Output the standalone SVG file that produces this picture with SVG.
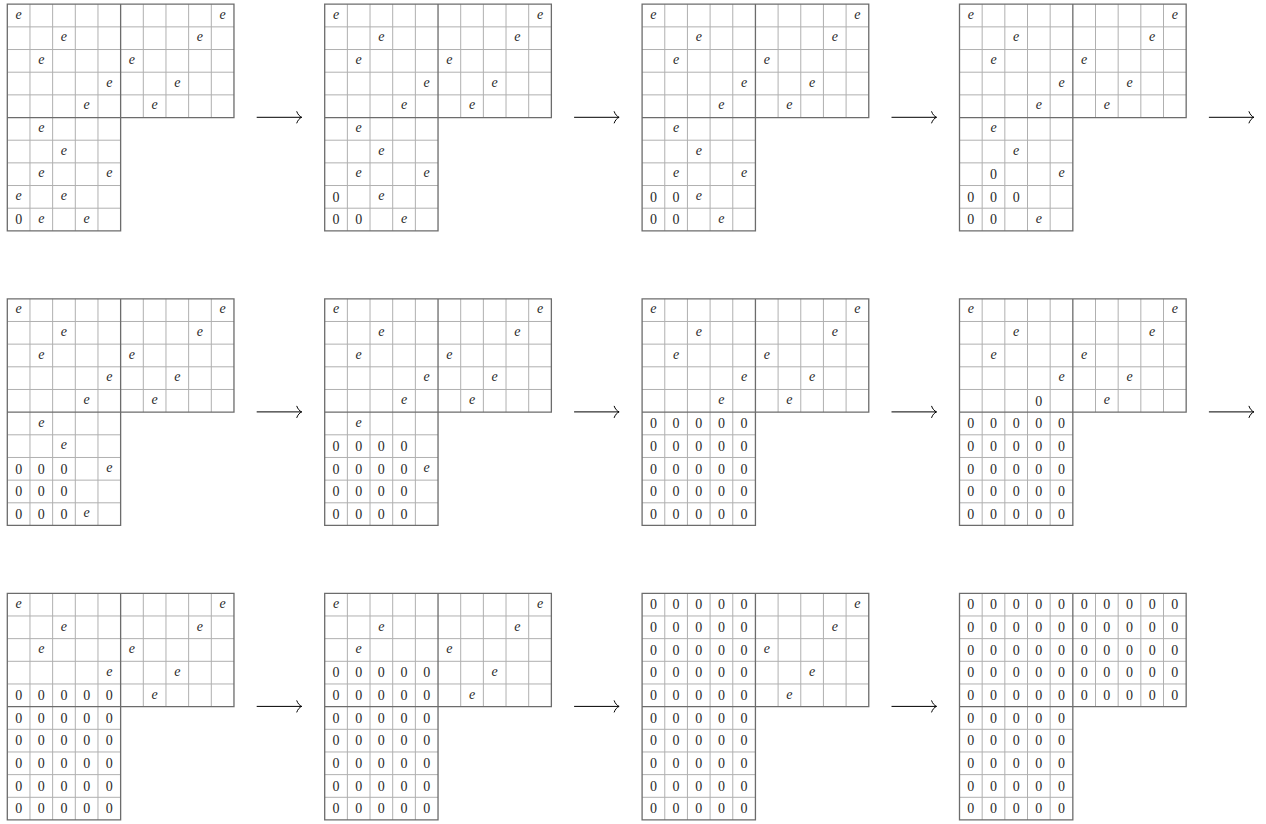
<svg xmlns="http://www.w3.org/2000/svg" xmlns:xlink="http://www.w3.org/1999/xlink" width="1266" height="824" viewBox="0 0 1266 824">
<style>
.t{stroke:#b0b0b0;stroke-width:1;fill:none}
.k{stroke:#6c6c6c;stroke-width:1.3;fill:none}
text{font-family:"Liberation Serif","Times New Roman",serif;font-size:14px;fill:#2a2a2a;text-anchor:middle}
.e{font-style:italic}
.a{stroke:#000;stroke-width:1;fill:none}
.g{opacity:0.995}
</style>
<defs>
<marker id="ah" markerUnits="userSpaceOnUse" markerWidth="10" markerHeight="14" refX="7" refY="7" orient="auto" overflow="visible">
<path d="M2,1 C3,4 5,6.2 7,7 C5,7.8 3,10 2,13" stroke="#000" stroke-width="1" fill="none"/>
</marker>
<g id="L">
<path class="t" d="M22.67,0V226.67M45.33,0V226.67M68,0V226.67M90.67,0V226.67M136,0V113.33M158.67,0V113.33M181.33,0V113.33M204,0V113.33M0,22.67H226.67M0,45.33H226.67M0,68H226.67M0,90.67H226.67M0,136H113.33M0,158.67H113.33M0,181.33H113.33M0,204H113.33"/>
<path class="k" d="M0,0H226.67V113.33H113.33V226.67H0ZM113.33,0V113.33M0,113.33H113.33"/>
</g>
</defs>

<g id="connectors">
<path class="a" d="M256.7,117.3H301.7" marker-end="url(#ah)"/>
<path class="a" d="M574.1,117.3H619.1" marker-end="url(#ah)"/>
<path class="a" d="M891.5,117.3H936.5" marker-end="url(#ah)"/>
<path class="a" d="M1208.9,117.3H1253.9" marker-end="url(#ah)"/>
<path class="a" d="M256.7,411.9H301.7" marker-end="url(#ah)"/>
<path class="a" d="M574.1,411.9H619.1" marker-end="url(#ah)"/>
<path class="a" d="M891.5,411.9H936.5" marker-end="url(#ah)"/>
<path class="a" d="M1208.9,411.9H1253.9" marker-end="url(#ah)"/>
<path class="a" d="M256.7,706.4H301.7" marker-end="url(#ah)"/>
<path class="a" d="M574.1,706.4H619.1" marker-end="url(#ah)"/>
<path class="a" d="M891.5,706.4H936.5" marker-end="url(#ah)"/>
</g>

<g id="grid1" class="g" transform="translate(7.3,4.2)">
<use xlink:href="#L" href="#L"/>
<text class="e" x="11.33" y="14.6">e</text><text class="e" x="215.33" y="14.6">e</text>
<text class="e" x="56.67" y="37.3">e</text><text class="e" x="192.67" y="37.3">e</text>
<text class="e" x="34" y="60">e</text><text class="e" x="124.67" y="60">e</text>
<text class="e" x="102" y="82.6">e</text><text class="e" x="170" y="82.6">e</text>
<text class="e" x="79.33" y="105.3">e</text><text class="e" x="147.33" y="105.3">e</text>
<text class="e" x="34" y="128">e</text>
<text class="e" x="56.67" y="150.6">e</text>
<text class="e" x="34" y="173.3">e</text><text class="e" x="102" y="173.3">e</text>
<text class="e" x="11.33" y="196">e</text><text class="e" x="56.67" y="196">e</text>
<text x="11.33" y="220.1">0</text><text class="e" x="34" y="218.6">e</text><text class="e" x="79.33" y="218.6">e</text>
</g>

<g id="grid2" class="g" transform="translate(324.7,4.2)">
<use xlink:href="#L" href="#L"/>
<text class="e" x="11.33" y="14.6">e</text><text class="e" x="215.33" y="14.6">e</text>
<text class="e" x="56.67" y="37.3">e</text><text class="e" x="192.67" y="37.3">e</text>
<text class="e" x="34" y="60">e</text><text class="e" x="124.67" y="60">e</text>
<text class="e" x="102" y="82.6">e</text><text class="e" x="170" y="82.6">e</text>
<text class="e" x="79.33" y="105.3">e</text><text class="e" x="147.33" y="105.3">e</text>
<text class="e" x="34" y="128">e</text>
<text class="e" x="56.67" y="150.6">e</text>
<text class="e" x="34" y="173.3">e</text><text class="e" x="102" y="173.3">e</text>
<text x="11.33" y="197.5">0</text><text class="e" x="56.67" y="196">e</text>
<text x="11.33" y="220.1">0</text><text x="34" y="220.1">0</text><text class="e" x="79.33" y="218.6">e</text>
</g>

<g id="grid3" class="g" transform="translate(642.1,4.2)">
<use xlink:href="#L" href="#L"/>
<text class="e" x="11.33" y="14.6">e</text><text class="e" x="215.33" y="14.6">e</text>
<text class="e" x="56.67" y="37.3">e</text><text class="e" x="192.67" y="37.3">e</text>
<text class="e" x="34" y="60">e</text><text class="e" x="124.67" y="60">e</text>
<text class="e" x="102" y="82.6">e</text><text class="e" x="170" y="82.6">e</text>
<text class="e" x="79.33" y="105.3">e</text><text class="e" x="147.33" y="105.3">e</text>
<text class="e" x="34" y="128">e</text>
<text class="e" x="56.67" y="150.6">e</text>
<text class="e" x="34" y="173.3">e</text><text class="e" x="102" y="173.3">e</text>
<text x="11.33" y="197.5">0</text><text x="34" y="197.5">0</text><text class="e" x="56.67" y="196">e</text>
<text x="11.33" y="220.1">0</text><text x="34" y="220.1">0</text><text class="e" x="79.33" y="218.6">e</text>
</g>

<g id="grid4" class="g" transform="translate(959.5,4.2)">
<use xlink:href="#L" href="#L"/>
<text class="e" x="11.33" y="14.6">e</text><text class="e" x="215.33" y="14.6">e</text>
<text class="e" x="56.67" y="37.3">e</text><text class="e" x="192.67" y="37.3">e</text>
<text class="e" x="34" y="60">e</text><text class="e" x="124.67" y="60">e</text>
<text class="e" x="102" y="82.6">e</text><text class="e" x="170" y="82.6">e</text>
<text class="e" x="79.33" y="105.3">e</text><text class="e" x="147.33" y="105.3">e</text>
<text class="e" x="34" y="128">e</text>
<text class="e" x="56.67" y="150.6">e</text>
<text x="34" y="174.8">0</text><text class="e" x="102" y="173.3">e</text>
<text x="11.33" y="197.5">0</text><text x="34" y="197.5">0</text><text x="56.67" y="197.5">0</text>
<text x="11.33" y="220.1">0</text><text x="34" y="220.1">0</text><text class="e" x="79.33" y="218.6">e</text>
</g>

<g id="grid5" class="g" transform="translate(7.3,298.8)">
<use xlink:href="#L" href="#L"/>
<text class="e" x="11.33" y="14.6">e</text><text class="e" x="215.33" y="14.6">e</text>
<text class="e" x="56.67" y="37.3">e</text><text class="e" x="192.67" y="37.3">e</text>
<text class="e" x="34" y="60">e</text><text class="e" x="124.67" y="60">e</text>
<text class="e" x="102" y="82.6">e</text><text class="e" x="170" y="82.6">e</text>
<text class="e" x="79.33" y="105.3">e</text><text class="e" x="147.33" y="105.3">e</text>
<text class="e" x="34" y="128">e</text>
<text class="e" x="56.67" y="150.6">e</text>
<text x="11.33" y="174.8">0</text><text x="34" y="174.8">0</text><text x="56.67" y="174.8">0</text><text class="e" x="102" y="173.3">e</text>
<text x="11.33" y="197.5">0</text><text x="34" y="197.5">0</text><text x="56.67" y="197.5">0</text>
<text x="11.33" y="220.1">0</text><text x="34" y="220.1">0</text><text x="56.67" y="220.1">0</text><text class="e" x="79.33" y="218.6">e</text>
</g>

<g id="grid6" class="g" transform="translate(324.7,298.8)">
<use xlink:href="#L" href="#L"/>
<text class="e" x="11.33" y="14.6">e</text><text class="e" x="215.33" y="14.6">e</text>
<text class="e" x="56.67" y="37.3">e</text><text class="e" x="192.67" y="37.3">e</text>
<text class="e" x="34" y="60">e</text><text class="e" x="124.67" y="60">e</text>
<text class="e" x="102" y="82.6">e</text><text class="e" x="170" y="82.6">e</text>
<text class="e" x="79.33" y="105.3">e</text><text class="e" x="147.33" y="105.3">e</text>
<text class="e" x="34" y="128">e</text>
<text x="11.33" y="152.1">0</text><text x="34" y="152.1">0</text><text x="56.67" y="152.1">0</text><text x="79.33" y="152.1">0</text>
<text x="11.33" y="174.8">0</text><text x="34" y="174.8">0</text><text x="56.67" y="174.8">0</text><text x="79.33" y="174.8">0</text><text class="e" x="102" y="173.3">e</text>
<text x="11.33" y="197.5">0</text><text x="34" y="197.5">0</text><text x="56.67" y="197.5">0</text><text x="79.33" y="197.5">0</text>
<text x="11.33" y="220.1">0</text><text x="34" y="220.1">0</text><text x="56.67" y="220.1">0</text><text x="79.33" y="220.1">0</text>
</g>

<g id="grid7" class="g" transform="translate(642.1,298.8)">
<use xlink:href="#L" href="#L"/>
<text class="e" x="11.33" y="14.6">e</text><text class="e" x="215.33" y="14.6">e</text>
<text class="e" x="56.67" y="37.3">e</text><text class="e" x="192.67" y="37.3">e</text>
<text class="e" x="34" y="60">e</text><text class="e" x="124.67" y="60">e</text>
<text class="e" x="102" y="82.6">e</text><text class="e" x="170" y="82.6">e</text>
<text class="e" x="79.33" y="105.3">e</text><text class="e" x="147.33" y="105.3">e</text>
<text x="11.33" y="129.5">0</text><text x="34" y="129.5">0</text><text x="56.67" y="129.5">0</text><text x="79.33" y="129.5">0</text><text x="102" y="129.5">0</text>
<text x="11.33" y="152.1">0</text><text x="34" y="152.1">0</text><text x="56.67" y="152.1">0</text><text x="79.33" y="152.1">0</text><text x="102" y="152.1">0</text>
<text x="11.33" y="174.8">0</text><text x="34" y="174.8">0</text><text x="56.67" y="174.8">0</text><text x="79.33" y="174.8">0</text><text x="102" y="174.8">0</text>
<text x="11.33" y="197.5">0</text><text x="34" y="197.5">0</text><text x="56.67" y="197.5">0</text><text x="79.33" y="197.5">0</text><text x="102" y="197.5">0</text>
<text x="11.33" y="220.1">0</text><text x="34" y="220.1">0</text><text x="56.67" y="220.1">0</text><text x="79.33" y="220.1">0</text><text x="102" y="220.1">0</text>
</g>

<g id="grid8" class="g" transform="translate(959.5,298.8)">
<use xlink:href="#L" href="#L"/>
<text class="e" x="11.33" y="14.6">e</text><text class="e" x="215.33" y="14.6">e</text>
<text class="e" x="56.67" y="37.3">e</text><text class="e" x="192.67" y="37.3">e</text>
<text class="e" x="34" y="60">e</text><text class="e" x="124.67" y="60">e</text>
<text class="e" x="102" y="82.6">e</text><text class="e" x="170" y="82.6">e</text>
<text x="79.33" y="106.8">0</text><text class="e" x="147.33" y="105.3">e</text>
<text x="11.33" y="129.5">0</text><text x="34" y="129.5">0</text><text x="56.67" y="129.5">0</text><text x="79.33" y="129.5">0</text><text x="102" y="129.5">0</text>
<text x="11.33" y="152.1">0</text><text x="34" y="152.1">0</text><text x="56.67" y="152.1">0</text><text x="79.33" y="152.1">0</text><text x="102" y="152.1">0</text>
<text x="11.33" y="174.8">0</text><text x="34" y="174.8">0</text><text x="56.67" y="174.8">0</text><text x="79.33" y="174.8">0</text><text x="102" y="174.8">0</text>
<text x="11.33" y="197.5">0</text><text x="34" y="197.5">0</text><text x="56.67" y="197.5">0</text><text x="79.33" y="197.5">0</text><text x="102" y="197.5">0</text>
<text x="11.33" y="220.1">0</text><text x="34" y="220.1">0</text><text x="56.67" y="220.1">0</text><text x="79.33" y="220.1">0</text><text x="102" y="220.1">0</text>
</g>

<g id="grid9" class="g" transform="translate(7.3,593.3)">
<use xlink:href="#L" href="#L"/>
<text class="e" x="11.33" y="14.6">e</text><text class="e" x="215.33" y="14.6">e</text>
<text class="e" x="56.67" y="37.3">e</text><text class="e" x="192.67" y="37.3">e</text>
<text class="e" x="34" y="60">e</text><text class="e" x="124.67" y="60">e</text>
<text class="e" x="102" y="82.6">e</text><text class="e" x="170" y="82.6">e</text>
<text x="11.33" y="106.8">0</text><text x="34" y="106.8">0</text><text x="56.67" y="106.8">0</text><text x="79.33" y="106.8">0</text><text x="102" y="106.8">0</text><text class="e" x="147.33" y="105.3">e</text>
<text x="11.33" y="129.5">0</text><text x="34" y="129.5">0</text><text x="56.67" y="129.5">0</text><text x="79.33" y="129.5">0</text><text x="102" y="129.5">0</text>
<text x="11.33" y="152.1">0</text><text x="34" y="152.1">0</text><text x="56.67" y="152.1">0</text><text x="79.33" y="152.1">0</text><text x="102" y="152.1">0</text>
<text x="11.33" y="174.8">0</text><text x="34" y="174.8">0</text><text x="56.67" y="174.8">0</text><text x="79.33" y="174.8">0</text><text x="102" y="174.8">0</text>
<text x="11.33" y="197.5">0</text><text x="34" y="197.5">0</text><text x="56.67" y="197.5">0</text><text x="79.33" y="197.5">0</text><text x="102" y="197.5">0</text>
<text x="11.33" y="220.1">0</text><text x="34" y="220.1">0</text><text x="56.67" y="220.1">0</text><text x="79.33" y="220.1">0</text><text x="102" y="220.1">0</text>
</g>

<g id="grid10" class="g" transform="translate(324.7,593.3)">
<use xlink:href="#L" href="#L"/>
<text class="e" x="11.33" y="14.6">e</text><text class="e" x="215.33" y="14.6">e</text>
<text class="e" x="56.67" y="37.3">e</text><text class="e" x="192.67" y="37.3">e</text>
<text class="e" x="34" y="60">e</text><text class="e" x="124.67" y="60">e</text>
<text x="11.33" y="84.1">0</text><text x="34" y="84.1">0</text><text x="56.67" y="84.1">0</text><text x="79.33" y="84.1">0</text><text x="102" y="84.1">0</text><text class="e" x="170" y="82.6">e</text>
<text x="11.33" y="106.8">0</text><text x="34" y="106.8">0</text><text x="56.67" y="106.8">0</text><text x="79.33" y="106.8">0</text><text x="102" y="106.8">0</text><text class="e" x="147.33" y="105.3">e</text>
<text x="11.33" y="129.5">0</text><text x="34" y="129.5">0</text><text x="56.67" y="129.5">0</text><text x="79.33" y="129.5">0</text><text x="102" y="129.5">0</text>
<text x="11.33" y="152.1">0</text><text x="34" y="152.1">0</text><text x="56.67" y="152.1">0</text><text x="79.33" y="152.1">0</text><text x="102" y="152.1">0</text>
<text x="11.33" y="174.8">0</text><text x="34" y="174.8">0</text><text x="56.67" y="174.8">0</text><text x="79.33" y="174.8">0</text><text x="102" y="174.8">0</text>
<text x="11.33" y="197.5">0</text><text x="34" y="197.5">0</text><text x="56.67" y="197.5">0</text><text x="79.33" y="197.5">0</text><text x="102" y="197.5">0</text>
<text x="11.33" y="220.1">0</text><text x="34" y="220.1">0</text><text x="56.67" y="220.1">0</text><text x="79.33" y="220.1">0</text><text x="102" y="220.1">0</text>
</g>

<g id="grid11" class="g" transform="translate(642.1,593.3)">
<use xlink:href="#L" href="#L"/>
<text x="11.33" y="16.1">0</text><text x="34" y="16.1">0</text><text x="56.67" y="16.1">0</text><text x="79.33" y="16.1">0</text><text x="102" y="16.1">0</text><text class="e" x="215.33" y="14.6">e</text>
<text x="11.33" y="38.8">0</text><text x="34" y="38.8">0</text><text x="56.67" y="38.8">0</text><text x="79.33" y="38.8">0</text><text x="102" y="38.8">0</text><text class="e" x="192.67" y="37.3">e</text>
<text x="11.33" y="61.5">0</text><text x="34" y="61.5">0</text><text x="56.67" y="61.5">0</text><text x="79.33" y="61.5">0</text><text x="102" y="61.5">0</text><text class="e" x="124.67" y="60">e</text>
<text x="11.33" y="84.1">0</text><text x="34" y="84.1">0</text><text x="56.67" y="84.1">0</text><text x="79.33" y="84.1">0</text><text x="102" y="84.1">0</text><text class="e" x="170" y="82.6">e</text>
<text x="11.33" y="106.8">0</text><text x="34" y="106.8">0</text><text x="56.67" y="106.8">0</text><text x="79.33" y="106.8">0</text><text x="102" y="106.8">0</text><text class="e" x="147.33" y="105.3">e</text>
<text x="11.33" y="129.5">0</text><text x="34" y="129.5">0</text><text x="56.67" y="129.5">0</text><text x="79.33" y="129.5">0</text><text x="102" y="129.5">0</text>
<text x="11.33" y="152.1">0</text><text x="34" y="152.1">0</text><text x="56.67" y="152.1">0</text><text x="79.33" y="152.1">0</text><text x="102" y="152.1">0</text>
<text x="11.33" y="174.8">0</text><text x="34" y="174.8">0</text><text x="56.67" y="174.8">0</text><text x="79.33" y="174.8">0</text><text x="102" y="174.8">0</text>
<text x="11.33" y="197.5">0</text><text x="34" y="197.5">0</text><text x="56.67" y="197.5">0</text><text x="79.33" y="197.5">0</text><text x="102" y="197.5">0</text>
<text x="11.33" y="220.1">0</text><text x="34" y="220.1">0</text><text x="56.67" y="220.1">0</text><text x="79.33" y="220.1">0</text><text x="102" y="220.1">0</text>
</g>

<g id="grid12" class="g" transform="translate(959.5,593.3)">
<use xlink:href="#L" href="#L"/>
<text x="11.33" y="16.1">0</text><text x="34" y="16.1">0</text><text x="56.67" y="16.1">0</text><text x="79.33" y="16.1">0</text><text x="102" y="16.1">0</text><text x="124.67" y="16.1">0</text><text x="147.33" y="16.1">0</text><text x="170" y="16.1">0</text><text x="192.67" y="16.1">0</text><text x="215.33" y="16.1">0</text>
<text x="11.33" y="38.8">0</text><text x="34" y="38.8">0</text><text x="56.67" y="38.8">0</text><text x="79.33" y="38.8">0</text><text x="102" y="38.8">0</text><text x="124.67" y="38.8">0</text><text x="147.33" y="38.8">0</text><text x="170" y="38.8">0</text><text x="192.67" y="38.8">0</text><text x="215.33" y="38.8">0</text>
<text x="11.33" y="61.5">0</text><text x="34" y="61.5">0</text><text x="56.67" y="61.5">0</text><text x="79.33" y="61.5">0</text><text x="102" y="61.5">0</text><text x="124.67" y="61.5">0</text><text x="147.33" y="61.5">0</text><text x="170" y="61.5">0</text><text x="192.67" y="61.5">0</text><text x="215.33" y="61.5">0</text>
<text x="11.33" y="84.1">0</text><text x="34" y="84.1">0</text><text x="56.67" y="84.1">0</text><text x="79.33" y="84.1">0</text><text x="102" y="84.1">0</text><text x="124.67" y="84.1">0</text><text x="147.33" y="84.1">0</text><text x="170" y="84.1">0</text><text x="192.67" y="84.1">0</text><text x="215.33" y="84.1">0</text>
<text x="11.33" y="106.8">0</text><text x="34" y="106.8">0</text><text x="56.67" y="106.8">0</text><text x="79.33" y="106.8">0</text><text x="102" y="106.8">0</text><text x="124.67" y="106.8">0</text><text x="147.33" y="106.8">0</text><text x="170" y="106.8">0</text><text x="192.67" y="106.8">0</text><text x="215.33" y="106.8">0</text>
<text x="11.33" y="129.5">0</text><text x="34" y="129.5">0</text><text x="56.67" y="129.5">0</text><text x="79.33" y="129.5">0</text><text x="102" y="129.5">0</text>
<text x="11.33" y="152.1">0</text><text x="34" y="152.1">0</text><text x="56.67" y="152.1">0</text><text x="79.33" y="152.1">0</text><text x="102" y="152.1">0</text>
<text x="11.33" y="174.8">0</text><text x="34" y="174.8">0</text><text x="56.67" y="174.8">0</text><text x="79.33" y="174.8">0</text><text x="102" y="174.8">0</text>
<text x="11.33" y="197.5">0</text><text x="34" y="197.5">0</text><text x="56.67" y="197.5">0</text><text x="79.33" y="197.5">0</text><text x="102" y="197.5">0</text>
<text x="11.33" y="220.1">0</text><text x="34" y="220.1">0</text><text x="56.67" y="220.1">0</text><text x="79.33" y="220.1">0</text><text x="102" y="220.1">0</text>
</g>
</svg>
